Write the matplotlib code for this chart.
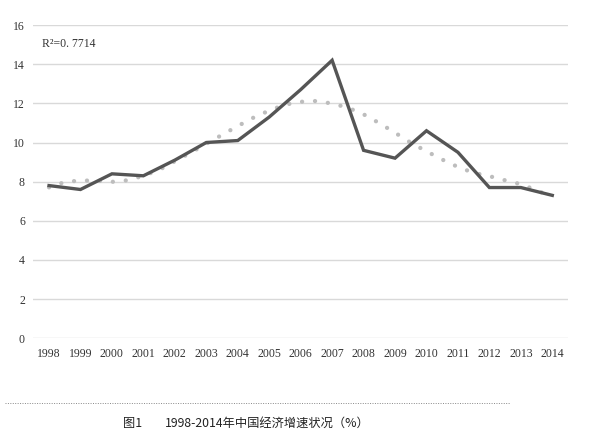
import matplotlib
matplotlib.use("Agg")
import matplotlib.pyplot as plt
from matplotlib.lines import Line2D

years = ["1998", "1999", "2000", "2001", "2002", "2003", "2004", "2005", "2006",
         "2007", "2008", "2009", "2010", "2011", "2012", "2013", "2014"]
growth = [7.8, 7.6, 8.4, 8.3, 9.1, 10.0, 10.1, 11.3, 12.7, 14.2,
          9.6, 9.2, 10.6, 9.5, 7.7, 7.7, 7.3]
# polynomial trend line read at half-year steps
trend_pos = [i * 0.5 for i in range(33)]
trend = [7.71, 7.98, 8.06, 8.05, 7.99, 8.07, 8.30, 8.60, 9.04, 9.48, 9.93,
         10.39, 10.84, 11.27, 11.63, 11.93, 12.08, 12.12, 11.99, 11.78, 11.44,
         10.99, 10.50, 9.99, 9.55, 9.13, 8.75, 8.45, 8.28, 8.07, 7.87, 7.56, 7.22]
yticks = [0, 2, 4, 6, 8, 10, 12, 14, 16]
r2_label = "R²=0. 7714"
caption_num = "图1"
caption = "1998-2014年中国经济增速状况（%）"

fig = plt.figure(figsize=(6.0, 4.47), dpi=100)
ax = fig.add_axes([0.0555, 0.2432, 0.8912, 0.7008])

xs = list(range(len(years)))
ax.plot(trend_pos, trend, color="#bdbdbd", lw=3.1,
        linestyle=(0, (0.01, 3.0)), dash_capstyle="round", zorder=2)
ax.plot(xs, growth, color="#555555", lw=2.4, solid_joinstyle="miter", zorder=3)

ax.set_xlim(-0.5, len(years) - 0.5)
ax.set_ylim(0, 16)
ax.set_yticks(yticks)
ax.set_xticks(xs)
ax.set_xticklabels(years)
ax.grid(axis="y", color="#d9d9d9", lw=1)
ax.set_axisbelow(True)
for s in ax.spines.values():
    s.set_visible(False)
ax.tick_params(length=0)
ax.tick_params(axis="y", pad=6)
ax.tick_params(axis="x", pad=7)
for lab in ax.get_xticklabels() + ax.get_yticklabels():
    lab.set_fontfamily("Liberation Serif")
    lab.set_fontsize(8.5)
    lab.set_color("#333333")

ax.text(0.0165, 0.94, r2_label, transform=ax.transAxes, fontsize=8.5,
        family="Liberation Serif", color="#333333", va="center", ha="left")

fig.add_artist(Line2D([5 / 600, 510 / 600], [1 - 402.7 / 447] * 2,
                      color="#888888", lw=0.7, linestyle=(0, (1, 1.5))))

fig.text(123 / 600, 1 - 423 / 447, caption_num, fontsize=8.8,
         family=["Noto Sans CJK SC", "DejaVu Sans"], va="center", ha="left", color="#222222")
fig.text(165 / 600, 1 - 423 / 447, caption, fontsize=8.8,
         family=["Noto Sans CJK SC", "DejaVu Sans"], va="center", ha="left", color="#222222")

fig.savefig("out.png", dpi=100)
